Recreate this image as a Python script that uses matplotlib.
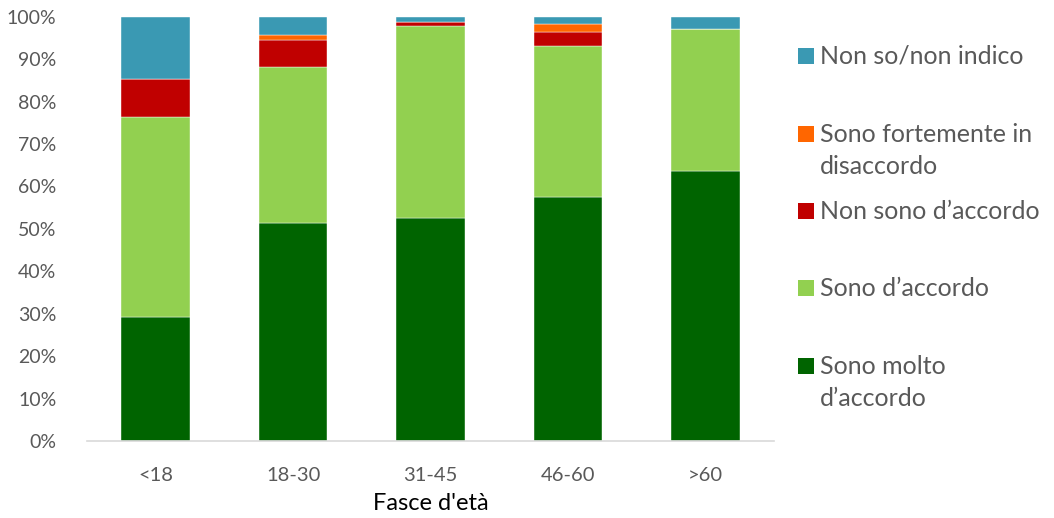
import numpy as np
import matplotlib.pyplot as plt
from matplotlib.patches import Rectangle
from matplotlib.ticker import PercentFormatter

# ===== Data (percent of respondents per age group) =====
age_groups = ["<18", "18-30", "31-45", "46-60", ">60"]
molto_accordo = [29.2, 51.4, 52.6, 57.4, 63.7]
accordo = [47.2, 36.7, 45.1, 35.8, 33.5]
non_accordo = [8.8, 6.5, 1.1, 3.3, 0.0]
forte_disaccordo = [0.0, 1.1, 0.0, 1.7, 0.0]
non_so = [14.8, 4.3, 1.2, 1.8, 2.8]

series = [
    ("Sono molto\nd’accordo", molto_accordo, "#006400"),
    ("Sono d’accordo", accordo, "#92D050"),
    ("Non sono d’accordo", non_accordo, "#C00000"),
    ("Sono fortemente in\ndisaccordo", forte_disaccordo, "#FF6600"),
    ("Non so/non indico", non_so, "#3A99B3"),
]

text_col = "#595959"
plt.rcParams["font.family"] = ["Lato", "DejaVu Sans"]

fig = plt.figure(figsize=(10.54, 5.18), dpi=100)
ax = fig.add_axes([0.0825, 0.1486, 0.652, 0.8192])

x = np.arange(len(age_groups))
bottom = np.zeros(len(age_groups))
for label, vals, col in series:
    ax.bar(x, vals, width=0.5, bottom=bottom, color=col,
           edgecolor="white", linewidth=0.3)
    bottom += np.array(vals)

ax.set_xlim(-0.5, len(age_groups) - 0.5)
ax.set_ylim(0, 100)
ax.set_yticks(np.arange(0, 101, 10))
ax.yaxis.set_major_formatter(PercentFormatter(decimals=0))
ax.set_xticks(x)
ax.set_xticklabels(age_groups)
ax.tick_params(axis="both", length=0, colors=text_col)
ax.tick_params(axis="y", labelsize=14, pad=22)
ax.tick_params(axis="x", labelsize=14.5, pad=19)
for s in ["top", "right", "left"]:
    ax.spines[s].set_visible(False)
ax.spines["bottom"].set_color("#D9D9D9")
ax.spines["bottom"].set_linewidth(1.2)
ax.set_xlabel("Fasce d'età", fontsize=17, color="black", labelpad=6)

# ===== Legend (markers line up with the first text line) =====
leg_y = [56, 134, 211, 288, 366]
for (label, vals, col), yy in zip(series[::-1], leg_y):
    fy = 1 - yy / 518
    fig.patches.append(Rectangle((798 / 1054, fy - 8 / 518), 16 / 1054, 16 / 518,
                                 transform=fig.transFigure, facecolor=col,
                                 edgecolor="none"))
    fig.text(820 / 1054, fy + 11 / 518, label, fontsize=18, color=text_col,
             va="top", ha="left", linespacing=1.5)

plt.savefig("out.png", dpi=100)
